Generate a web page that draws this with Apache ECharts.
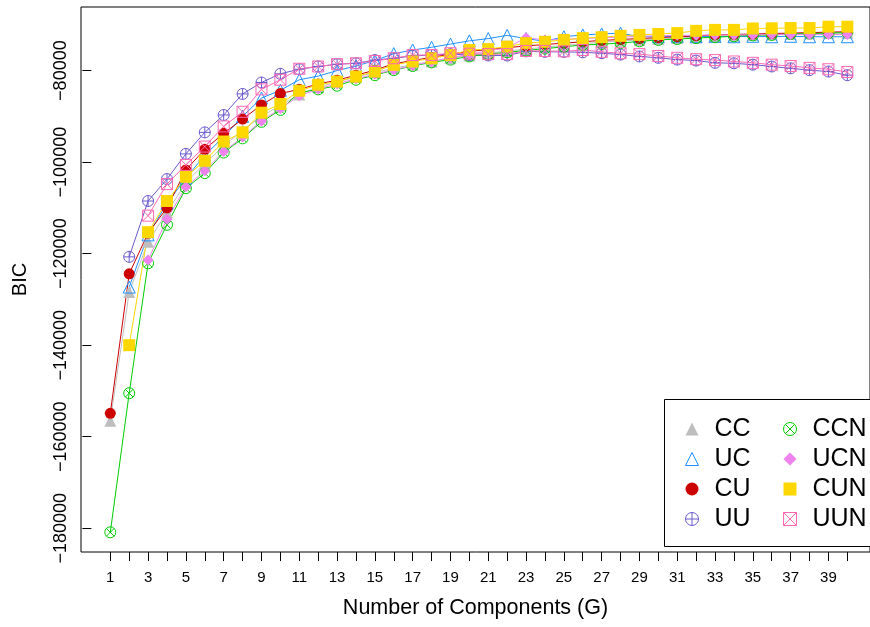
<!DOCTYPE html>
<html>
<head>
<meta charset="utf-8">
<script src="https://cdn.jsdelivr.net/npm/echarts@6/dist/echarts.min.js"></script>
<style>
  html, body { margin: 0; padding: 0; background: #fff; }
  #bicChart { width: 870px; height: 627px; }
</style>
</head>
<body>
<div id="bicChart"></div>
<script>
// number of components
const G = Array.from({ length: 40 }, (_, i) => i + 1)
const xTicks = G
const xLabels = G.filter(g => g % 2 === 1)
const yTicks = [-180000, -160000, -140000, -120000, -100000, -80000]

// BIC values (null = not plotted)
const CC = [-156500, -128400, -117400, -111000, -104500, -100300, -96500, -93000, -90000, -87600,
  -85200, -83600, -82500, -81400, -80400, -79500, -78700, -78000, -77300, -76700,
  -76200, -75700, -75300, -74900, -74500, -74100, -73800, -73500, -73300, -73100,
  -72900, -72700, -72500, -72400, -72200, -72100, -72000, -71900, -71800, -71700]
const UC = [null, -127300, -115900, -109000, -103500, -98500, -94500, -90000, -86000, -84300,
  -82000, -81200, -80000, -79000, -77800, -76300, -75500, -74900, -74200, -73500,
  -73000, -72300, -73000, -73600, -72600, -72200, -72000, -71800, -72600, -72600,
  -72500, -72600, -72500, -72600, -72500, -72600, -72500, -72600, -72600, -72600]
const CU = [-154900, -124400, -115500, -110000, -101700, -97200, -93700, -90600, -87500, -85000,
  -84100, -82900, -82100, -81000, -79900, -78500, -77800, -77100, -76400, -75800,
  -75400, -75000, -74600, -74300, -74000, -73700, -73400, -73200, -73000, -72800,
  -72600, -72400, -72200, -72100, -72000, -71900, -71800, -71700, -71600, -71500]
const UU = [null, -120700, -108500, -103700, -98200, -93500, -89700, -85100, -82600, -80700,
  -79700, -79100, -78600, -78400, -77700, -77300, -76800, -76600, -76400, -76600,
  -76700, -76700, -75800, -75900, -75900, -76000, -76200, -76500, -76900, -77200,
  -77600, -77800, -78300, -78400, -78700, -79100, -79500, -79900, -80200, -81000]
const CCN = [-180900, -150500, -122100, -113700, -105700, -102400, -97900, -94800, -91200, -88600,
  -84800, -84100, -83300, -82000, -81000, -79900, -79000, -78200, -77600, -76900,
  -76400, -76000, -75600, -75200, -74800, -74400, -74200, -74000, -73600, -73300,
  -73100, -72900, -72700, -72500, -72300, -72200, -72000, -71900, -71800, -71700]
const UCN = [null, null, -121400, -112500, -105400, -101900, -97700, -94500, -91000, -88300,
  -85500, -84000, -82900, -81800, -80800, -79800, -78900, -78000, -77200, -76400,
  -75700, -75000, -72800, -73300, -73200, -73000, -72800, -72700, -72500, -72400,
  -72300, -72300, -72200, -72200, -72200, -72100, -72100, -72100, -72100, -72100]
const CUN = [null, -140000, -115300, -108500, -103200, -99700, -95500, -93500, -89200, -87300,
  -84400, -83100, -82400, -81300, -80200, -78750, -78000, -77300, -76600, -75500,
  -75300, -74750, -74000, -73700, -73300, -72900, -72700, -72400, -72200, -72000,
  -71800, -71300, -71100, -71100, -70800, -70750, -70700, -70700, -70400, -70400]
const UUN = [null, null, -111700, -104800, -100600, -96600, -92200, -89000, -84100, -82000,
  -79600, -79100, -78600, -78400, -77900, -77300, -76600, -76600, -76200, -76300,
  -76400, -76400, -75700, -75700, -75800, -75500, -75900, -76200, -76400, -76800,
  -77200, -77500, -77700, -78000, -78300, -78700, -79000, -79400, -79700, -80300]

const circlePlus = 'path://M-1,0A1,1,0,1,1,1,0A1,1,0,1,1,-1,0ZM-1,0L1,0M0,-1L0,1'
const circleCross = 'path://M-1,0A1,1,0,1,1,1,0A1,1,0,1,1,-1,0ZM-0.7071,-0.7071L0.7071,0.7071M-0.7071,0.7071L0.7071,-0.7071'
const squareCross = 'path://M-1,-1L1,-1L1,1L-1,1ZM-1,-1L1,1M-1,1L1,-1'

const models = [
  { name: 'CC', data: CC, color: '#BEBEBE', symbol: 'triangle', open: false, size: 12 },
  { name: 'UC', data: UC, color: '#1E90FF', symbol: 'triangle', open: true, size: 12 },
  { name: 'CU', data: CU, color: '#CD0000', symbol: 'circle', open: false, size: 11 },
  { name: 'UU', data: UU, color: '#6A5ACD', symbol: circlePlus, open: true, size: 11 },
  { name: 'CCN', data: CCN, color: '#00CD00', symbol: circleCross, open: true, size: 11 },
  { name: 'UCN', data: UCN, color: '#EE82EE', symbol: 'diamond', open: false, size: 11 },
  { name: 'CUN', data: CUN, color: '#FFD700', symbol: 'rect', open: false, size: 12 },
  { name: 'UUN', data: UUN, color: '#FF69B4', symbol: squareCross, open: true, size: 11 }
]

function styleOf (m) {
  if (m.open) {
    return { color: 'rgba(0,0,0,0)', borderColor: m.color, borderWidth: 1 }
  }
  return { color: m.color, borderWidth: 0 }
}

function legendData (list) {
  return list.map(m => ({ name: m.name, icon: m.symbol, itemStyle: styleOf(m) }))
}

const minus = v => String(v).replace('-', '\u2212')
const font = 'Liberation Sans, Arial, Helvetica, sans-serif'

const legendBase = {
  orient: 'vertical',
  top: 411,
  itemWidth: 13,
  itemHeight: 13,
  itemGap: 4,
  selectedMode: false,
  textStyle: { fontFamily: font, fontSize: 25, color: '#000', lineHeight: 26, padding: [0, 0, 0, 11] }
}

const chart = echarts.init(document.getElementById('bicChart'))
const option = {
  animation: false,
  backgroundColor: '#fff',
  grid: {
    left: 81,
    top: 7,
    right: -3,
    bottom: 75,
    show: true,
    borderColor: '#000',
    borderWidth: 1
  },
  xAxis: {
    type: 'value',
    min: -0.55,
    max: 41.2,
    name: 'Number of Components (G)',
    nameLocation: 'middle',
    nameGap: 45,
    nameTextStyle: { fontFamily: font, fontSize: 21.5, color: '#000' },
    axisLine: { show: false },
    splitLine: { show: false },
    axisTick: {
      show: true,
      length: 9,
      customValues: xTicks,
      lineStyle: { color: '#000', width: 1 }
    },
    axisLabel: {
      customValues: xLabels,
      margin: 18,
      fontFamily: font,
      fontSize: 15,
      color: '#000'
    }
  },
  yAxis: {
    type: 'value',
    min: -185200,
    max: -66100,
    name: 'BIC',
    nameLocation: 'middle',
    nameGap: 51,
    nameTextStyle: { fontFamily: font, fontSize: 20, color: '#000' },
    axisLine: { show: false },
    splitLine: { show: false },
    axisTick: {
      show: true,
      length: 9,
      customValues: yTicks,
      lineStyle: { color: '#000', width: 1 }
    },
    axisLabel: {
      customValues: yTicks,
      rotate: 90,
      margin: 11,
      fontFamily: font,
      fontSize: 18,
      color: '#000',
      formatter: minus
    }
  },
  legend: [
    Object.assign({}, legendBase, { left: 680, data: legendData(models.slice(0, 4)) }),
    Object.assign({}, legendBase, { left: 778, data: legendData(models.slice(4)) })
  ],
  graphic: [
    {
      type: 'rect',
      shape: { x: 664.5, y: 399.5, width: 220, height: 147 },
      style: { fill: '#fff', stroke: '#000', lineWidth: 1 },
      z: 3
    }
  ],
  series: models.map(m => ({
    name: m.name,
    type: 'line',
    data: G.map((g, i) => [g, m.data[i]]),
    symbol: m.symbol,
    symbolSize: m.size,
    showAllSymbol: true,
    connectNulls: false,
    lineStyle: { color: m.color, width: 1 },
    itemStyle: styleOf(m),
    emphasis: { disabled: true }
  }))
}
chart.setOption(option)
</script>
</body>
</html>
